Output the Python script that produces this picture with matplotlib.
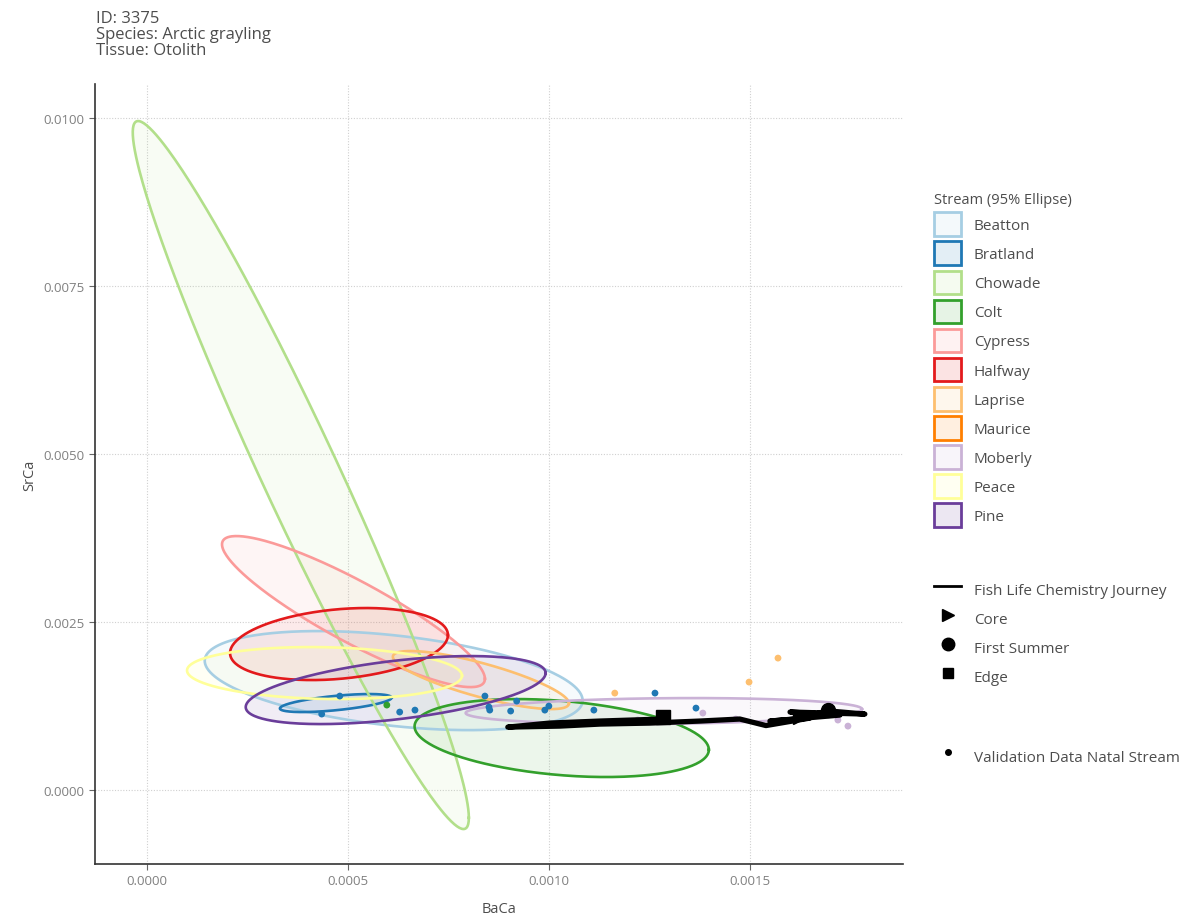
import numpy as np
import matplotlib
matplotlib.use("Agg")
import matplotlib.pyplot as plt
from matplotlib.patches import Patch
from matplotlib.lines import Line2D

plt.rcParams['font.family'] = ['Open Sans', 'DejaVu Sans']

# stream 95% ellipses: centre, half extent (bounding box) and correlation
streams = ['Beatton', 'Bratland', 'Chowade', 'Colt', 'Cypress', 'Halfway',
           'Laprise', 'Maurice', 'Moberly', 'Peace', 'Pine']
colors = ['#a6cee3', '#1f78b4', '#b2df8a', '#33a02c', '#fb9a99', '#e31a1c',
          '#fdbf6f', '#ff7f00', '#cab2d6', '#ffff99', '#6a3d9a']
center_x = [0.000614, 0.000470, 0.000383, 0.001032, 0.000514, 0.000478,
            0.000831, None, 0.001286, 0.000442, 0.000619]
center_y = [0.001629, 0.001295, 0.004688, 0.000774, 0.002656, 0.002173,
            0.001637, None, 0.001176, 0.001741, 0.001488]
half_x = [0.000470, 0.000139, 0.000418, 0.000366, 0.000327, 0.000271,
          0.000219, None, 0.000493, 0.000342, 0.000373]
half_y = [0.000737, 0.000134, 0.005268, 0.000580, 0.001124, 0.000536,
          0.000432, None, 0.000193, 0.000387, 0.000506]
rho = [-0.40, 0.60, -0.968, -0.30, -0.89, 0.25,
       -0.80, None, 0.15, -0.10, 0.50]

# fish life chemistry journey (core -> edge)
path_x = [0.001624, 0.001699, 0.001786, 0.001600, 0.001724, 0.001550,
          0.001649, 0.001540, 0.001475, 0.001376, 0.001251, 0.001127,
          0.001027, 0.000898, 0.001002, 0.001127, 0.001284]
path_y = [0.001086, 0.001176, 0.001131, 0.001161, 0.001116, 0.001027,
          0.001071, 0.000960, 0.001057, 0.001027, 0.000997, 0.000982,
          0.000952, 0.000937, 0.000997, 0.001027, 0.001057]
core = (0.001624, 0.001086)
first_summer = (0.001694, 0.001190)
edge = (0.001284, 0.001086)

# validation data (natal stream)
val_x = [0.000480, 0.000435, 0.000629, 0.000667, 0.000841, 0.000851,
         0.000853, 0.000905, 0.000920, 0.000990, 0.001000, 0.001112,
         0.001264, 0.001366, 0.000597,
         0.001164, 0.001498, 0.001570,
         0.001221, 0.001383, 0.001465, 0.001629, 0.001677, 0.001719, 0.001744]
val_y = [0.001399, 0.001131, 0.001161, 0.001190, 0.001399, 0.001235,
         0.001190, 0.001176, 0.001324, 0.001190, 0.001250, 0.001190,
         0.001443, 0.001220, 0.001265,
         0.001443, 0.001607, 0.001964,
         0.001042, 0.001146, 0.001057, 0.001131, 0.001146, 0.001042, 0.000952]
val_stream = ['Bratland'] * 14 + ['Colt'] + ['Laprise'] * 3 + ['Moberly'] * 7

text_col = '#4d4d4d'
tick_col = '#808080'

fig = plt.figure(figsize=(11.93, 9.2), dpi=100)
ax = fig.add_axes([0.0796, 0.0598, 0.677, 0.848])

t = np.linspace(0, 2 * np.pi, 300)
for i, s in enumerate(streams):
    if center_x[i] is None:
        continue
    ex = center_x[i] + half_x[i] * np.cos(t)
    ey = center_y[i] + half_y[i] * (rho[i] * np.cos(t) + np.sqrt(1 - rho[i] ** 2) * np.sin(t))
    ax.fill(ex, ey, color=colors[i], alpha=0.09, lw=0, zorder=2)
    ax.plot(ex, ey, color=colors[i], lw=1.9, zorder=3)

cmap = dict(zip(streams, colors))
ax.scatter(val_x, val_y, c=[cmap[s] for s in val_stream], s=24, zorder=4, lw=0)

ax.plot(path_x, path_y, color='black', lw=3.8, solid_capstyle='butt', zorder=5)
ax.plot(*core, marker='>', color='black', ms=10, zorder=6)
ax.plot(*first_summer, marker='o', color='black', ms=10, zorder=6)
ax.plot(*edge, marker='s', color='black', ms=10, zorder=6)

ax.set_xlim(-0.000129, 0.00188)
ax.set_ylim(-0.00110, 0.01051)
ax.set_xticks([0.0, 0.0005, 0.0010, 0.0015])
ax.set_xticklabels(['0.0000', '0.0005', '0.0010', '0.0015'])
ax.set_yticks([0.0, 0.0025, 0.0050, 0.0075, 0.0100])
ax.set_yticklabels(['0.0000', '0.0025', '0.0050', '0.0075', '0.0100'])
ax.grid(True, color='#d0d0d0', linestyle=(0, (1, 1.5)), lw=0.8)
ax.set_axisbelow(True)
for sp in ['top', 'right']:
    ax.spines[sp].set_visible(False)
for sp in ['left', 'bottom']:
    ax.spines[sp].set_color('#333333')
    ax.spines[sp].set_linewidth(1.2)
ax.tick_params(colors='#666666', labelcolor=tick_col, labelsize=9.5, length=4)
ax.set_xlabel('BaCa', color=text_col, fontsize=10.5, labelpad=10)
ax.set_ylabel('SrCa', color=text_col, fontsize=10.5, labelpad=4)

fig.text(0.0805, 0.988, 'ID: 3375\nSpecies: Arctic grayling\nTissue: Otolith',
         ha='left', va='top', fontsize=12, color=text_col, linespacing=1.0)

# legends
common = dict(loc='upper left', frameon=False, fontsize=11, handlelength=1.75,
              handleheight=2.0, labelspacing=0.36, handletextpad=0.85, borderaxespad=0)

stream_handles = [Patch(facecolor=matplotlib.colors.to_rgba(c, 0.12), edgecolor=c, lw=2)
                  for c in colors]
leg1 = fig.legend(stream_handles, streams, title='Stream (95% Ellipse)',
                  bbox_to_anchor=(0.778, 0.797), title_fontsize=10.5, alignment='left',
                  **common)
for txt in leg1.get_texts():
    txt.set_color(text_col)
leg1.get_title().set_color(text_col)

journey_handles = [Line2D([], [], color='black', lw=2),
                   Line2D([], [], color='black', marker='>', ls='', ms=9),
                   Line2D([], [], color='black', marker='o', ls='', ms=9),
                   Line2D([], [], color='black', marker='s', ls='', ms=7)]
leg2 = fig.legend(journey_handles, ['Fish Life Chemistry Journey', 'Core', 'First Summer', 'Edge'],
                  bbox_to_anchor=(0.778, 0.378), **common)
for txt in leg2.get_texts():
    txt.set_color(text_col)

leg3 = fig.legend([Line2D([], [], color='black', marker='o', ls='', ms=4)],
                  ['Validation Data Natal Stream'],
                  bbox_to_anchor=(0.778, 0.197), **common)
for txt in leg3.get_texts():
    txt.set_color(text_col)

fig.savefig('out.png', dpi=100, facecolor='white')
